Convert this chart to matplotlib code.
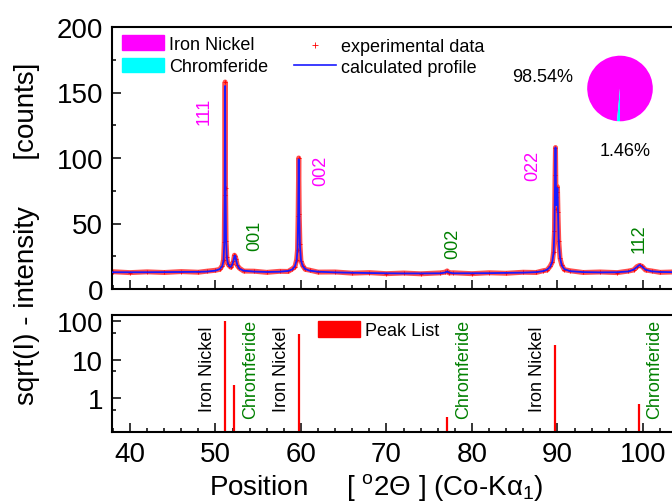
import matplotlib
matplotlib.use("Agg")
import matplotlib.pyplot as plt
from matplotlib.ticker import MultipleLocator, FixedLocator, FixedFormatter, NullFormatter
from matplotlib.patches import Patch
from matplotlib.lines import Line2D

plt.rcParams['font.family'] = ['Liberation Sans', 'DejaVu Sans']
plt.rcParams['mathtext.fontset'] = 'custom'
plt.rcParams['mathtext.rm'] = 'Liberation Sans'
plt.rcParams['mathtext.it'] = 'Liberation Sans:italic'

# --- data ---
two_theta = [38.0, 40.0, 42.0, 44.0, 46.0, 48.0, 49.0, 50.0, 50.5, 50.8, 50.95, 51.03, 51.08,
             51.13, 51.18, 51.24, 51.33, 51.45, 51.6, 51.8, 51.95, 52.1, 52.22, 52.3, 52.4,
             52.55, 52.8, 53.3, 54.5, 56.0, 57.5, 58.5, 59.0, 59.3, 59.5, 59.6, 59.67, 59.74,
             59.8, 59.88, 60.0, 60.2, 60.5, 61.0, 62.0, 64.0, 66.0, 68.0, 70.0, 72.0, 74.0,
             76.3, 76.9, 77.1, 77.3, 77.8, 80.0, 82.0, 84.0, 86.0, 87.5, 88.3, 88.8, 89.15,
             89.4, 89.55, 89.65, 89.72, 89.77, 89.83, 89.88, 89.95, 90.0, 90.06, 90.15, 90.3,
             90.5, 90.8, 91.5, 93.0, 95.0, 97.0, 98.3, 98.9, 99.3, 99.6, 99.9, 100.3, 101.0,
             102.0, 104.0, 106.0]
calculated = [12.8, 12.8, 12.8, 12.9, 13.0, 13.1, 13.3, 14.0, 15.2, 17.5, 22.0, 35.0, 70.0,
              155.0, 75.0, 38.0, 24.0, 19.5, 17.5, 17.0, 18.5, 21.5, 25.0, 25.5, 22.5,
              18.5, 15.5, 14.0, 13.3, 13.0, 13.2, 13.8, 15.0, 17.5, 22.0, 31.0, 55.0, 99.0,
              58.0, 33.0, 22.0, 17.5, 15.3, 14.0, 13.2, 12.7, 12.4, 12.2, 12.0, 11.9, 11.9,
              12.0, 12.6, 13.4, 12.6, 12.0, 12.0, 12.1, 12.3, 12.5, 12.9, 13.6, 14.8, 17.0,
              21.0, 28.0, 45.0, 85.0, 108.0, 75.0, 64.0, 73.0, 77.0, 60.0, 36.0, 24.0,
              18.0, 15.2, 13.6, 12.9, 12.7, 12.8, 13.4, 14.8, 16.8, 18.4, 17.0, 14.8, 13.5,
              13.0, 12.8, 12.8]
observed = [13.2, 12.5, 13.1, 12.6, 13.3, 12.8, 13.6, 14.3, 15.0, 17.9, 22.5, 36.0, 72.0,
            158.0, 77.0, 37.0, 24.5, 19.0, 17.9, 16.6, 18.9, 21.0, 25.8, 25.0, 23.0,
            18.0, 15.9, 13.7, 13.6, 12.7, 13.5, 13.4, 15.4, 17.1, 22.5, 30.0, 56.0, 100.0,
            57.0, 34.0, 21.5, 17.9, 15.0, 14.4, 12.9, 13.0, 12.1, 12.5, 11.7, 12.2, 11.6,
            12.3, 12.9, 13.8, 12.3, 12.4, 11.7, 12.4, 12.0, 12.8, 12.6, 13.9, 14.5, 17.4,
            20.6, 28.5, 44.0, 87.0, 108.0, 70.0, 61.0, 74.0, 78.0, 59.0, 37.0, 23.5,
            18.4, 14.8, 13.9, 12.6, 13.0, 12.5, 13.7, 14.5, 17.1, 18.0, 17.3, 14.5, 13.8,
            12.7, 13.1, 12.6]

phases = ['Iron Nickel', 'Chromferide']
phase_fraction = [98.54, 1.46]
phase_colors = ['#ff00ff', '#00ffff']

# reflections: position, peak-list height, phase index, hkl
peak_pos = [51.13, 52.2, 59.8, 77.1, 89.73, 99.55]
peak_height = [100.0, 2.26, 46.5, 0.32, 23.5, 0.70]
peak_phase = [0, 1, 0, 1, 0, 1]
hkl = ['111', '001', '002', '002', '022', '112']
hkl_x = [48.7, 54.6, 62.3, 77.8, 87.1, 99.6]
hkl_y = [136.6, 41.0, 91.0, 35.0, 95.0, 39.0]

label_colors = ['black', 'green']
hkl_colors = ['#ff00ff', 'green']

W, H = 672, 502
fig = plt.figure(figsize=(W / 100, H / 100), dpi=100)

xmin, xmax = 37.9, 105.0
px_per_deg = 8.55
ax_w = (xmax - xmin) * px_per_deg / W
ax1 = fig.add_axes([112 / W, (H - 290) / H, ax_w, 262 / H])
ax2 = fig.add_axes([112 / W, (H - 432.7) / H, ax_w, 117 / H])

for ax in (ax1, ax2):
    ax.set_xlim(xmin, xmax)
    for s in ax.spines.values():
        s.set_linewidth(1.5)
    ax.tick_params(which='both', direction='in', width=1.1, labelsize=20, pad=6.5,
                   top=False, right=False)
    ax.tick_params(which='major', length=6.5)
    ax.tick_params(which='minor', length=3.2)
    ax.xaxis.set_major_locator(MultipleLocator(10))
    ax.xaxis.set_minor_locator(MultipleLocator(2))

# --- top panel: profile ---
ax1.plot(two_theta, observed, color='#ff2020', lw=3.6, alpha=0.8, zorder=2)
ax1.plot(two_theta, observed, ls='none', marker='+', ms=3, mew=0.6, color='#ff0000', zorder=2)
ax1.plot(two_theta, calculated, color='#1a1aff', lw=1.3, zorder=3)
ax1.set_ylim(0, 200)
ax1.yaxis.set_major_locator(MultipleLocator(50))
ax1.yaxis.set_minor_locator(MultipleLocator(25))
ax1.tick_params(axis='x', labelbottom=False)

for i in range(len(hkl)):
    ax1.text(hkl_x[i], hkl_y[i], hkl[i], rotation=90, ha='center', va='center',
             fontsize=13, color=hkl_colors[peak_phase[i]])

leg1 = ax1.legend([Patch(color=c) for c in phase_colors], phases, loc='upper left',
                  bbox_to_anchor=(122 / W, 1 - 36 / H), bbox_transform=fig.transFigure,
                  frameon=False, fontsize=13, handlelength=2.3, handleheight=0.86,
                  handletextpad=0.3, labelspacing=0.3, borderpad=0, borderaxespad=0)
ax1.add_artist(leg1)
ax1.legend([Line2D([], [], ls='none', marker='+', ms=4, mew=0.6, color='#ff0000'),
            Line2D([], [], color='#1a1aff', lw=1.2)],
           ['experimental data', 'calculated profile'], loc='upper left',
           bbox_to_anchor=(294 / W, 1 - 39 / H), bbox_transform=fig.transFigure,
           frameon=False, fontsize=13, handlelength=2.3, handletextpad=0.3,
           labelspacing=0.2, borderpad=0, borderaxespad=0)

# pie of phase fractions
axp = fig.add_axes([579 / W, (H - 130.5) / H, 82 / W, 82 / H])
axp.pie(phase_fraction, colors=phase_colors, startangle=270, counterclock=True,
        wedgeprops=dict(linewidth=0))
axp.set_aspect('equal')
fig.text(543 / W, 1 - 78 / H, f'{phase_fraction[0]:.2f}%', ha='center', va='center', fontsize=13)
fig.text(625.5 / W, 1 - 152 / H, f'{phase_fraction[1]:.2f}%', ha='center', va='center', fontsize=13)

# --- bottom panel: peak list ---
ax2.set_yscale('log')
ax2.set_ylim(0.136, 148)
ax2.vlines(peak_pos, 0.136, peak_height, color='#ff0000', lw=1.6)
ax2.yaxis.set_major_locator(FixedLocator([1, 10, 100]))
ax2.yaxis.set_major_formatter(FixedFormatter(['1', '10', '100']))
ax2.yaxis.set_minor_locator(FixedLocator([0.5, 5, 50]))
ax2.yaxis.set_minor_formatter(NullFormatter())

for i in range(len(peak_pos)):
    ph = peak_phase[i]
    off = -13 if ph == 0 else 11.5
    ax2.annotate(phases[ph], (peak_pos[i], 0.54), xycoords=('data', 'axes fraction'),
                 xytext=(off, 0), textcoords='offset points', rotation=90,
                 ha='center', va='center', fontsize=13, color=label_colors[ph])

ax2.legend([Patch(color='#ff0000')], ['Peak List'], loc='upper left',
           bbox_to_anchor=(318 / W, 1 - 322 / H), bbox_transform=fig.transFigure,
           frameon=False, fontsize=13, handlelength=2.3, handleheight=0.95,
           handletextpad=0.3, borderpad=0, borderaxespad=0)

fig.text(27 / W, 1 - 233.5 / H, 'sqrt(I) - intensity      [counts]', rotation=90,
         ha='center', va='center', fontsize=20)
fig.text(209 / W, (H - 495) / H,
         r'Position     [ $^{\mathrm{o}}$2Θ ] (Co-Kα$_{\mathrm{1}}$)',
         ha='left', va='baseline', fontsize=20)

fig.savefig('out.png', dpi=100)
